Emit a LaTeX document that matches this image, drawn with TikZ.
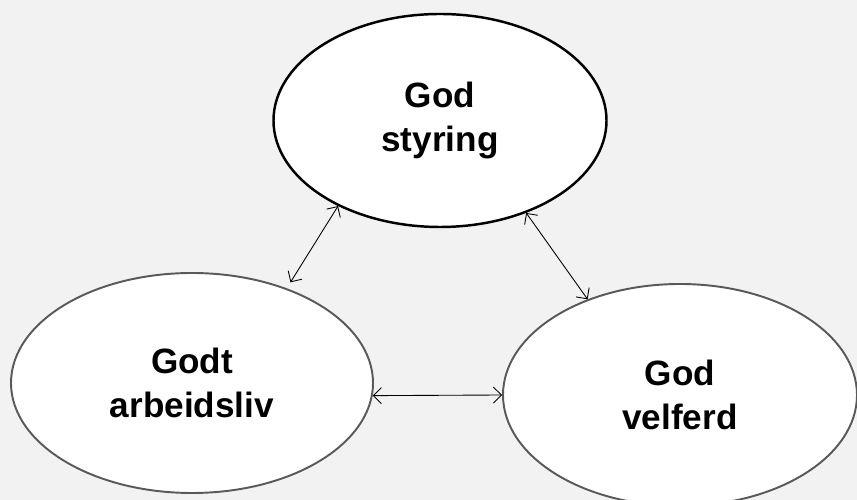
\documentclass[tikz,border=0pt]{standalone}
\usepackage{fontspec}
\setmainfont{Liberation Sans}
\usetikzlibrary{shapes.geometric,arrows.meta}

\begin{document}
\begin{tikzpicture}[
   goal/.style={ellipse,draw,fill=white,inner sep=0pt,align=center,
      font=\fontsize{20}{24.6}\selectfont\bfseries},
   link/.style={{Straight Barb[length=1.6mm,width=3.2mm]}-{Straight Barb[length=1.6mm,width=3.2mm]},line width=0.5pt}]
   \fill[black!5] (0,0) rectangle (17.14,-10);
   \useasboundingbox (0,0) rectangle (17.14,-10);
   \node[goal,line width=1.4pt,minimum width=6.66cm,minimum height=4.26cm] (styring) at (8.8,-2.41) {God\\styring};
   \node[goal,draw=black!65,line width=1.1pt,minimum width=7.24cm,minimum height=4.4cm] (arbeid) at (3.84,-7.66) {Godt\\arbeidsliv};
   \node[goal,draw=black!65,line width=1.1pt,minimum width=7.08cm,minimum height=4.44cm] (velferd) at (13.6,-7.9) {God\\velferd};
   \draw[link,shorten >=0.14cm] (styring.220) -- (arbeid.45.5);
   \draw[link] (styring.313) -- (velferd.134);
   \draw[link] (arbeid.-4) -- (velferd.180);
  \end{tikzpicture}
\end{document}
